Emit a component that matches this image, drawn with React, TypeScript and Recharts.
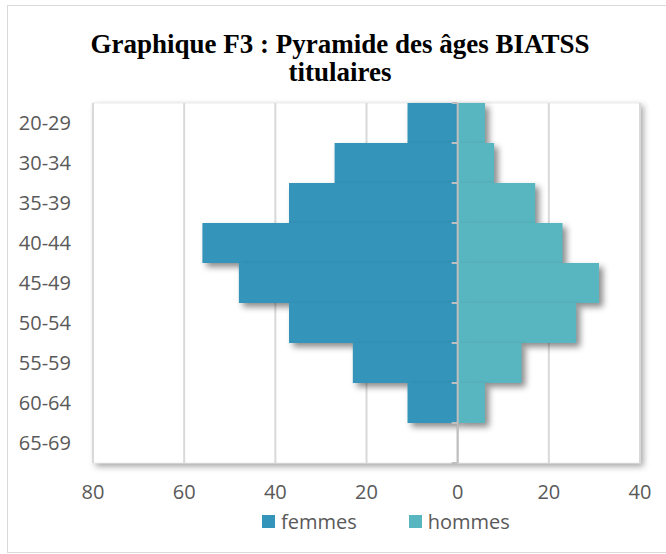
import { BarChart, Bar, XAxis, YAxis, CartesianGrid, ReferenceLine } from 'recharts';

const categories = ['20-29', '30-34', '35-39', '40-44', '45-49', '50-54', '55-59', '60-64', '65-69'];
const femmes = [11, 27, 37, 56, 48, 37, 23, 11, 0];
const hommes = [6, 8, 17, 23, 31, 26, 14, 6, 0];
const xTicks = [-80, -60, -40, -20, 0, 20, 40];
const seriesNames = ['femmes', 'hommes'];

const FEMMES_COLOR = '#3494BA';
const HOMMES_COLOR = '#58B6C0';
const TEXT_COLOR = '#595959';
const FONT = '"Open Sans", sans-serif';

const data = categories.map((age, i) => ({ age, femmes: -femmes[i], hommes: hommes[i] }));

const shadow = 'drop-shadow(4px 4px 3px rgba(0,0,0,0.45))';

function ShadowBar(props: any) {
  const { x, y, width, height, fill } = props;
  const left = Math.min(x, x + width);
  const w = Math.abs(width);
  if (!w) return <g />;
  return <rect x={left} y={y} width={w} height={height} fill={fill} style={{ filter: shadow }} />;
}

// hommes bars start on the zero axis, so they also carry the small axis ticks
function HommesBar(props: any) {
  const { x, y, width, height, fill, index } = props;
  const last = index === categories.length - 1;
  return (
    <g>
      {width > 0 && <rect x={x} y={y} width={width} height={height} fill={fill} style={{ filter: shadow }} />}
      <line x1={x - 6} y1={y} x2={x} y2={y} stroke="#bfbfbf" strokeWidth={2} />
      {last && <line x1={x - 6} y1={y + height} x2={x} y2={y + height} stroke="#bfbfbf" strokeWidth={2} />}
    </g>
  );
}

export default function App() {
  const colors = [FEMMES_COLOR, HOMMES_COLOR];
  return (
    <div>
      <style>{`.recharts-cartesian-grid-bg { filter: drop-shadow(3px 3px 3px rgba(0,0,0,0.35)); stroke: #ececec; stroke-width: 1; }`}</style>
      <div
        style={{
          position: 'absolute', left: 7, top: 5, width: 670, height: 548,
          border: '1px solid #d9d9d9', boxSizing: 'border-box', background: '#fff',
        }}
      />
      <div
        style={{
          position: 'absolute', left: 7, top: 30, width: 666, textAlign: 'center',
          fontFamily: '"Liberation Serif", serif', fontWeight: 'bold', fontSize: 27, lineHeight: '28px', color: '#000',
        }}
      >
        Graphique F3 : Pyramide des âges BIATSS<br />titulaires
      </div>
      <div style={{ position: 'absolute', left: 0, top: 0 }}>
        <BarChart
          width={666}
          height={554}
          data={data}
          layout="vertical"
          stackOffset="sign"
          barCategoryGap={0}
          margin={{ top: 103, right: 26, bottom: 31, left: 0 }}
        >
          <CartesianGrid horizontal={false} stroke="#d9d9d9" strokeWidth={2} fill="#fff" />
          <XAxis
            type="number"
            domain={[-80, 40]}
            ticks={xTicks}
            tickFormatter={(v: number) => String(Math.abs(v))}
            axisLine={false}
            tickLine={false}
            tickSize={0}
            tickMargin={22}
            height={60}
            tick={{ fill: TEXT_COLOR, fontSize: 20, fontFamily: FONT }}
          />
          <YAxis
            type="category"
            dataKey="age"
            width={93}
            axisLine={false}
            tickLine={false}
            tickSize={0}
            tickMargin={22}
            tick={{ fill: TEXT_COLOR, fontSize: 20, fontFamily: FONT }}
          />
          <Bar dataKey="femmes" name="femmes" stackId="a" fill={FEMMES_COLOR} shape={ShadowBar} isAnimationActive={false} />
          <Bar dataKey="hommes" name="hommes" stackId="a" fill={HOMMES_COLOR} shape={HommesBar} isAnimationActive={false} />
          <ReferenceLine x={0} stroke="#bfbfbf" strokeWidth={2} />
        </BarChart>
      </div>
      <div
        style={{
          position: 'absolute', left: 262, top: 508, display: 'flex',
          fontFamily: FONT, fontSize: 20, color: TEXT_COLOR,
        }}
      >
        {seriesNames.map((name, i) => (
          <div key={name} style={{ display: 'flex', alignItems: 'center', marginRight: 52 }}>
            <span style={{ width: 13, height: 13, background: colors[i], marginRight: 6, display: 'inline-block' }} />
            <span>{name}</span>
          </div>
        ))}
      </div>
    </div>
  );
}
